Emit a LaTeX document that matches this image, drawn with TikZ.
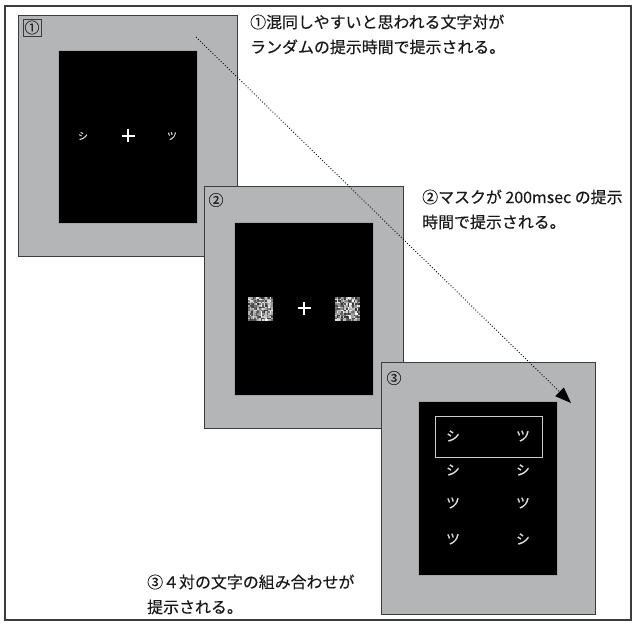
\documentclass[tikz,border=0pt]{standalone}
\usepackage{fontspec}
\setmainfont{Noto Sans CJK JP}[FakeBold=0.3]
\usetikzlibrary{arrows.meta}
\definecolor{panelgray}{RGB}{180,181,183}
\definecolor{edgegray}{RGB}{60,60,62}
\definecolor{kanagray}{RGB}{225,225,225}
\tikzset{
  panel/.style={rectangle, fill=panelgray, draw=edgegray, line width=0.8bp, inner sep=0, outer sep=0},
  screen/.style={rectangle, fill=black, draw=gray!70, line width=0.5bp, inner sep=0, outer sep=0},
  desc/.style={anchor=base west, align=left, inner sep=0, font=\fontsize{16}{25}\selectfont, text=black!90},
  kana/.style={text=kanagray, inner sep=0, font=\fontsize{14}{14}\selectfont},
  smallkana/.style={text=kanagray, inner sep=0, font=\fontsize{10}{10}\selectfont},
  numlabel/.style={inner sep=0, font=\fontsize{15}{15}\selectfont, text=black!85},
  crossline/.style={draw=white, line width=2.2bp},
  pairbox/.style={rectangle, draw=gray!40, line width=1bp, inner sep=0},
  flow/.style={draw=black, line width=0.9bp, dotted, -{Triangle[length=16bp,width=12bp]}}
}
\begin{document}
\begin{tikzpicture}[x=1bp, y=-1bp]
\useasboundingbox (0,0) rectangle (636,624);
\fill[white] (0,0) rectangle (636,624);
\draw[edgegray, line width=1.2bp] (5,6) rectangle (631,620);

% panel 1
\node[panel, minimum width=219bp, minimum height=241bp] (p1) at (127.5,135.5) {};
\node[screen, minimum width=139bp, minimum height=173bp] (s1) at (127.5,136.5) {};
\node[numlabel, draw=edgegray, line width=0.8bp, minimum width=18bp, minimum height=17bp] (n1) at (32,27.5) {①};
\node[smallkana] (k1a) at (83,136) {シ};
\node[smallkana] (k1b) at (172,136) {ツ};
\coordinate (c1) at (128,136);
\draw[crossline] ([xshift=-6.5bp]c1) -- ([xshift=6.5bp]c1);
\draw[crossline] ([yshift=-6.5bp]c1) -- ([yshift=6.5bp]c1);

% panel 2
\node[panel, minimum width=199bp, minimum height=242bp] (p2) at (303.5,307) {};
\node[screen, minimum width=139bp, minimum height=173bp] (s2) at (303.5,308.5) {};
\node[numlabel] (n2) at (216,200) {②};
\pgfmathsetseed{11}
\foreach \ox in {248,335}{
  \fill[black!80] (\ox,297) rectangle ++(25,24);
  \foreach \i in {0,...,15}{
    \foreach \j in {0,...,14}{
      \pgfmathsetmacro\g{int(20+80*rnd)}
      \fill[white!\g!black] (\ox+1.5625*\i,297+1.6*\j) rectangle ++(1.65,1.7);
    }
  }
}
\coordinate (c2) at (304,308);
\draw[crossline] ([xshift=-6.5bp]c2) -- ([xshift=6.5bp]c2);
\draw[crossline] ([yshift=-6.5bp]c2) -- ([yshift=6.5bp]c2);

% panel 3
\node[panel, minimum width=214bp, minimum height=252bp] (p3) at (488,488) {};
\node[screen, minimum width=139bp, minimum height=174bp] (s3) at (487.5,488) {};
\node[numlabel] (n3) at (394,378) {③};
\node[pairbox, minimum width=107bp, minimum height=41bp] (hl) at (488.5,436.5) {};
\node[kana] (a1) at (453,436) {シ};
\node[kana] (b1) at (523,436) {ツ};
\node[kana] (a2) at (453,470) {シ};
\node[kana] (b2) at (523,470) {シ};
\node[kana] (a3) at (453,503) {ツ};
\node[kana] (b3) at (523,503) {ツ};
\node[kana] (a4) at (453,539) {ツ};
\node[kana] (b4) at (523,539) {シ};

% descriptions (anchor = baseline of last line)
\node[desc] (t1) at (250,53) {①混同しやすいと思われる文字対が\\ランダムの提示時間で提示される。};
\node[desc] (t2) at (422,228) {②マスクが 200msec の提示\\時間で提示される。};
\node[desc] (t3) at (147,613) {③４対の文字の組み合わせが\\提示される。};

% flow arrow
\coordinate (fstart) at (196,37);
\coordinate (fend) at (571,403);
\draw[flow] (fstart) -- (fend);
\end{tikzpicture}
\end{document}
